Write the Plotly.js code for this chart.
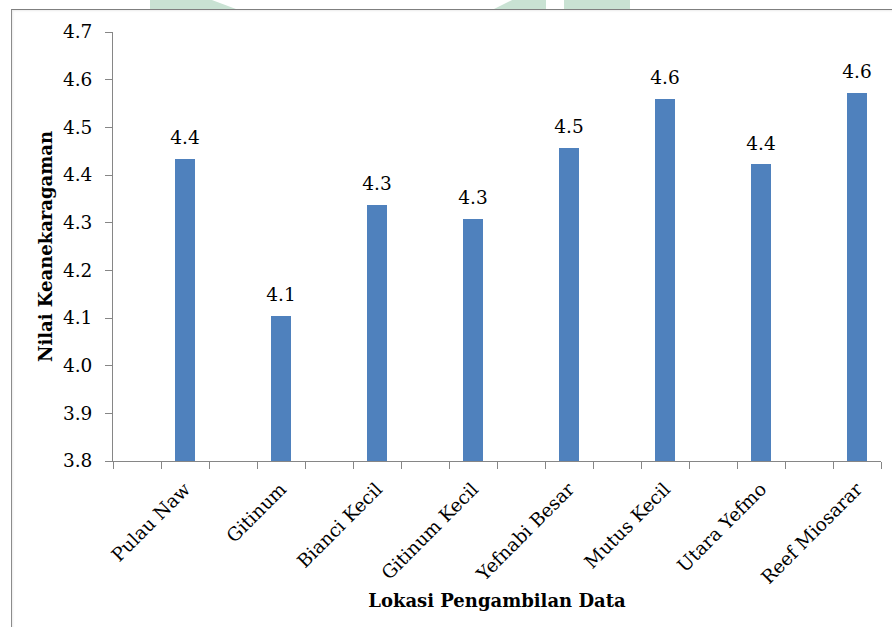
<!DOCTYPE html>
<html>
<head>
<meta charset="utf-8">
<script src="https://cdn.plot.ly/plotly-3.0.1.min.js"></script>
<style>
  html, body { margin: 0; padding: 0; background: #ffffff; }
  #wrap { position: relative; width: 892px; height: 627px; overflow: hidden; }
  #chart { position: absolute; left: 0; top: 0; width: 892px; height: 627px; }
  .frame { position: absolute; left: 11px; top: 9px; width: 900px; height: 640px;
           border-left: 1px solid #8c8c8c; border-top: 1px solid #7f7f7f;
           box-shadow: inset 1px 1px 2px rgba(0,0,0,0.08); pointer-events: none; z-index: 5; }
  .wm { position: absolute; top: 0; height: 9px; background: #c9e2d3; z-index: 4; }
  .wm1 { left: 150px; width: 86px; clip-path: polygon(0 0, 72% 0, 100% 100%, 0 100%); }
  .wm2 { left: 494px; width: 52px; clip-path: polygon(35% 0, 100% 0, 100% 100%, 0 100%); }
  .wm3 { left: 564px; width: 66px; }
</style>
</head>
<body>
<div id="wrap">
  <div class="wm wm1"></div>
  <div class="wm wm2"></div>
  <div class="wm wm3"></div>
  <div class="frame"></div>
  <div id="chart"></div>
</div>
<script>
// Sampling sites and their diversity index values
const lokasi = ['Pulau Naw', 'Gitinum', 'Bianci Kecil', 'Gitinum Kecil',
                'Yefnabi Besar', 'Mutus Kecil', 'Utara Yefmo', 'Reef Miosarar'];
const nilai = [4.434, 4.105, 4.338, 4.308, 4.457, 4.560, 4.423, 4.573];
const yTicks = [3.8, 3.9, 4.0, 4.1, 4.2, 4.3, 4.4, 4.5, 4.6, 4.7];

// Each site occupies two slots on the axis; the bar sits in the second slot
const pos = lokasi.map((_, i) => 2 * i + 1.5);
const boundaries = Array.from({ length: 2 * lokasi.length + 1 }, (_, i) => i);

const serif = 'DejaVu Serif, Liberation Serif, serif';
const axisGray = '#868686';
const labelSize = 18.5;
const titleSize = 18;

const bars = {
  type: 'bar',
  x: pos,
  y: nilai,
  width: 0.41,
  marker: { color: '#4F81BD', line: { width: 0 } },
  hoverinfo: 'skip',
  showlegend: false
};

const labels = {
  type: 'scatter',
  mode: 'markers+text',
  x: pos,
  y: nilai,
  text: nilai.map(v => v.toFixed(1)),
  textposition: 'top center',
  textfont: { family: serif, size: labelSize, color: '#000000' },
  marker: { size: 14, opacity: 0 },
  hoverinfo: 'skip',
  showlegend: false,
  cliponaxis: false
};

const layout = {
  width: 892,
  height: 627,
  margin: { l: 113, r: 11, t: 32, b: 166 },
  paper_bgcolor: 'rgba(0,0,0,0)',
  plot_bgcolor: 'rgba(0,0,0,0)',
  font: { family: serif, size: labelSize, color: '#000000' },
  xaxis: {
    range: [0, 2 * lokasi.length],
    tickmode: 'array',
    tickvals: pos,
    ticktext: lokasi,
    tickangle: -45,
    ticks: '',
    ticklabelstandoff: 9,
    tickfont: { family: serif, size: labelSize, color: '#000000' },
    minor: { tickmode: 'array', tickvals: boundaries, ticks: 'outside',
             ticklen: 7, tickwidth: 1, tickcolor: axisGray, showgrid: false },
    showline: true,
    linecolor: axisGray,
    linewidth: 1,
    showgrid: false,
    zeroline: false,
    fixedrange: true,
    automargin: false,
    title: { text: '<b>Lokasi Pengambilan Data</b>',
             font: { family: serif, size: titleSize, color: '#000000' }, standoff: 7 }
  },
  yaxis: {
    range: [3.8, 4.7],
    tickmode: 'array',
    tickvals: yTicks,
    ticktext: yTicks.map(v => v.toFixed(1)),
    ticks: 'outside',
    ticklen: 7,
    tickwidth: 1,
    tickcolor: axisGray,
    ticklabelstandoff: 9,
    tickfont: { family: serif, size: labelSize, color: '#000000' },
    showline: true,
    linecolor: axisGray,
    linewidth: 1,
    showgrid: false,
    zeroline: false,
    fixedrange: true,
    automargin: false,
    title: { text: '<b>Nilai Keanekaragaman</b>',
             font: { family: serif, size: titleSize, color: '#000000' }, standoff: 5 }
  },
  bargap: 0
};

Plotly.newPlot('chart', [bars, labels], layout, { staticPlot: true, displayModeBar: false });
</script>
</body>
</html>
